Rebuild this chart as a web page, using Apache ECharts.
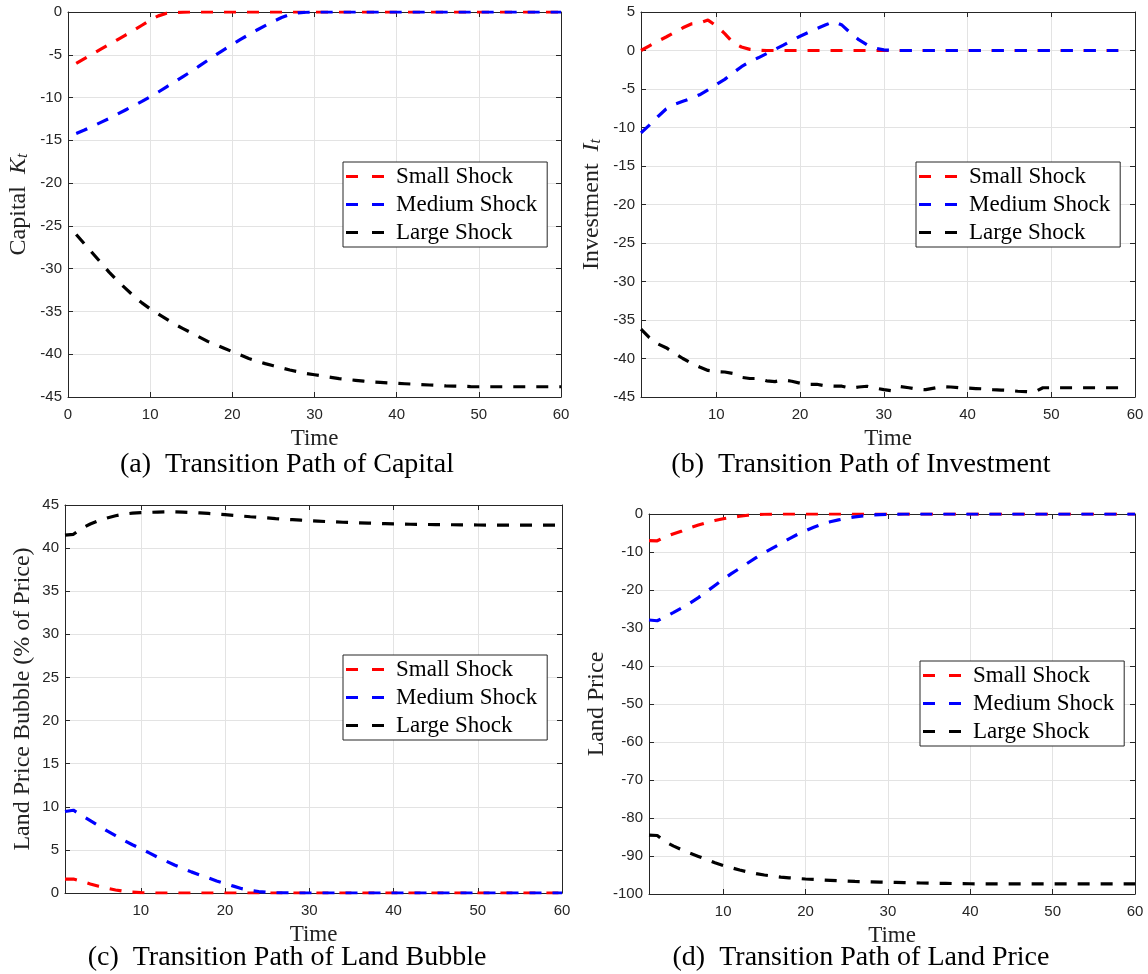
<!DOCTYPE html>
<html><head><meta charset="utf-8">
<script src="https://cdn.jsdelivr.net/npm/echarts@6/dist/echarts.min.js"></script>
<style>html,body{margin:0;padding:0;background:#fff}#c{width:1148px;height:974px}</style>
</head><body><div id="c"></div>
<script>
// ---------------- data ----------------
const time = [1,2,3,4,5,6,7,8,9,10,11,12,13,14,15,16,17,18,19,20,
  21,22,23,24,25,26,27,28,29,30,31,32,33,34,35,36,37,38,39,40,
  41,42,43,44,45,46,47,48,49,50,51,52,53,54,55,56,57,58,59,60];
const seriesNames = ['Small Shock','Medium Shock','Large Shock'];

// (a) Capital
const capSmall = [-6.0,-5.45,-4.9,-4.35,-3.8,-3.25,-2.7,-2.15,-1.55,-0.95,
  -0.45,-0.15,-0.05,-0.01,0,0,0,0,0,0,
  0,0,0,0,0,0,0,0,0,0, 0,0,0,0,0,0,0,0,0,0,
  0,0,0,0,0,0,0,0,0,0, 0,0,0,0,0,0,0,0,0,0];
const capMedium = [-14.2,-13.8,-13.35,-12.9,-12.45,-11.95,-11.45,-10.95,-10.45,-9.9,
  -9.35,-8.75,-8.15,-7.55,-6.95,-6.3,-5.65,-5.0,-4.4,-3.8,
  -3.2,-2.65,-2.1,-1.6,-1.1,-0.65,-0.3,-0.1,-0.03,0,
  0,0,0,0,0,0,0,0,0,0, 0,0,0,0,0,0,0,0,0,0, 0,0,0,0,0,0,0,0,0,0];
const capLarge = [-26.0,-27.1,-28.2,-29.3,-30.4,-31.4,-32.3,-33.2,-34.0,-34.7,
  -35.3,-35.9,-36.5,-37.0,-37.5,-38.0,-38.5,-38.9,-39.3,-39.7,
  -40.1,-40.5,-40.8,-41.1,-41.35,-41.6,-41.85,-42.05,-42.25,-42.4,
  -42.55,-42.7,-42.85,-42.95,-43.05,-43.15,-43.25,-43.3,-43.35,-43.4,
  -43.45,-43.5,-43.55,-43.6,-43.65,-43.7,-43.72,-43.75,-43.78,-43.8,
  -43.8,-43.8,-43.8,-43.8,-43.8,-43.8,-43.8,-43.8,-43.8,-43.8];

// (b) Investment (58 periods)
const invSmall = [0.0,0.6,1.2,1.75,2.35,2.95,3.45,3.55,3.95,3.2,
  2.2,1.0,0.45,0.15,0.04,0,0,0,0,0,
  0,0,0,0,0,0,0,0,0,0, 0,0,0,0,0,0,0,0,0,0,
  0,0,0,0,0,0,0,0,0,0, 0,0,0,0,0,0,0,0];
const invMedium = [-10.7,-9.7,-8.6,-7.6,-7.0,-6.6,-6.2,-5.75,-5.1,-4.4,
  -3.75,-2.9,-2.1,-1.45,-0.95,-0.4,0.15,0.7,1.3,1.85,
  2.35,2.85,3.3,3.75,3.3,2.3,1.4,0.75,0.3,0.08,
  0.02,0,0,0,0,0,0,0,0,0, 0,0,0,0,0,0,0,0,0,0, 0,0,0,0,0,0,0,0];
const invLarge = [-36.2,-37.3,-38.1,-38.6,-39.3,-40.0,-40.6,-41.1,-41.55,-41.7,
  -41.75,-41.95,-42.45,-42.6,-42.6,-42.9,-43.0,-42.8,-42.95,-43.2,
  -43.35,-43.35,-43.55,-43.6,-43.6,-43.85,-43.7,-43.6,-43.85,-44.05,
  -44.2,-43.65,-43.8,-44.0,-44.05,-43.85,-43.65,-43.7,-43.8,-43.85,
  -43.9,-43.95,-44.05,-44.1,-44.15,-44.25,-44.3,-44.35,-43.8,-43.8,
  -43.8,-43.8,-43.8,-43.8,-43.8,-43.8,-43.8,-43.8];

// (c) Land bubble
const bubSmall = [1.6,1.62,1.35,1.05,0.78,0.55,0.35,0.2,0.1,0.04,
  0.01,0,0,0,0,0,0,0,0,0,
  0,0,0,0,0,0,0,0,0,0, 0,0,0,0,0,0,0,0,0,0,
  0,0,0,0,0,0,0,0,0,0, 0,0,0,0,0,0,0,0,0,0];
const bubMedium = [9.45,9.6,9.0,8.4,7.8,7.2,6.65,6.1,5.6,5.15,
  4.65,4.15,3.7,3.25,2.85,2.45,2.1,1.75,1.4,1.1,
  0.8,0.5,0.3,0.17,0.08,0.03,0.01,0,0,0,
  0,0,0,0,0,0,0,0,0,0, 0,0,0,0,0,0,0,0,0,0, 0,0,0,0,0,0,0,0,0,0];
const bubLarge = [41.5,41.6,42.3,42.8,43.2,43.5,43.75,43.95,44.05,44.12,
  44.15,44.18,44.2,44.2,44.17,44.13,44.08,44.02,43.95,43.88,
  43.8,43.72,43.64,43.57,43.5,43.42,43.35,43.3,43.24,43.18,
  43.13,43.08,43.04,43.0,42.96,42.93,42.9,42.87,42.84,42.81,
  42.79,42.77,42.76,42.74,42.73,42.72,42.71,42.7,42.69,42.68,
  42.67,42.67,42.67,42.67,42.67,42.67,42.67,42.67,42.67,42.67];

// (d) Land price
const landSmall = [-7.0,-7.05,-6.0,-5.2,-4.45,-3.6,-2.9,-2.25,-1.7,-1.25,
  -0.9,-0.6,-0.33,-0.15,-0.06,-0.02,0,0,0,0,
  0,0,0,0,0,0,0,0,0,0, 0,0,0,0,0,0,0,0,0,0,
  0,0,0,0,0,0,0,0,0,0, 0,0,0,0,0,0,0,0,0,0];
const landMedium = [-27.9,-28.1,-27.0,-25.9,-24.7,-23.4,-22.0,-20.4,-18.8,-17.2,
  -15.7,-14.3,-12.9,-11.5,-10.2,-9.0,-7.8,-6.55,-5.4,-4.4,
  -3.5,-2.7,-2.05,-1.55,-1.1,-0.75,-0.5,-0.3,-0.17,-0.08,
  -0.03,0,0,0,0,0,0,0,0,0, 0,0,0,0,0,0,0,0,0,0, 0,0,0,0,0,0,0,0,0,0];
const landLarge = [-84.5,-84.6,-86.3,-87.4,-88.4,-89.3,-90.1,-90.9,-91.8,-92.5,
  -93.1,-93.7,-94.2,-94.65,-95.0,-95.3,-95.55,-95.75,-95.9,-96.05,
  -96.15,-96.3,-96.4,-96.5,-96.6,-96.7,-96.75,-96.8,-96.85,-96.9,
  -96.95,-97.0,-97.05,-97.1,-97.15,-97.2,-97.22,-97.25,-97.28,-97.3,
  -97.32,-97.34,-97.35,-97.36,-97.36,-97.36,-97.36,-97.36,-97.36,-97.36,
  -97.36,-97.36,-97.36,-97.36,-97.36,-97.36,-97.36,-97.36,-97.36,-97.36];

const xTicksA = [0,10,20,30,40,50,60];
const xTicksB = [10,20,30,40,50,60];
const captions = ['(a)  Transition Path of Capital','(b)  Transition Path of Investment',
  '(c)  Transition Path of Land Bubble','(d)  Transition Path of Land Price'];
const yNames = ['Capital  {m|K}{s|t}','Investment  {m|I}{s|t}','Land Price Bubble (% of Price)','Land Price'];

// ---------------- styling / layout ----------------
const colors = ['#ff0000','#0000ff','#000000'];
const AX = '#262626';
const GRIDC = '#e3e3e3';
const serif = '"Liberation Serif","Times New Roman",serif';
const sans = '"Liberation Sans",Arial,sans-serif';
const dashIcon = 'path://M0,0H12V3.2H0Z M26,0H38V3.2H26Z';

const panels = [
  {grid:{left:68,top:12,width:493,height:385}, xMin:0, xTicks:xTicksA, yMin:-45, yMax:0, yInt:5, yGap:37,
   data:[capSmall,capMedium,capLarge], legend:{left:343,top:162}, capX:287, capTop:451},
  {grid:{left:641,top:12,width:494,height:385}, xMin:1, xTicks:xTicksB, yMin:-45, yMax:5, yInt:5, yGap:37,
   data:[invSmall,invMedium,invLarge], legend:{left:916,top:162}, capX:861, capTop:451},
  {grid:{left:65,top:505,width:497,height:388}, xMin:1, xTicks:xTicksB, yMin:0, yMax:45, yInt:5, yGap:30,
   data:[bubSmall,bubMedium,bubLarge], legend:{left:343,top:655}, capX:287, capTop:944},
  {grid:{left:649,top:514,width:486,height:380}, xMin:1, xTicks:xTicksB, yMin:-100, yMax:0, yInt:10, yGap:37,
   data:[landSmall,landMedium,landLarge], legend:{left:920,top:661}, capX:861, capTop:944}
];

const option = {animation:false, backgroundColor:'#fff', grid:[], xAxis:[], yAxis:[], series:[], legend:[], title:[]};
const axLine = {show:true, onZero:false, lineStyle:{color:AX, width:1}};
const nameRich = {
  m:{fontFamily:serif, fontStyle:'italic', fontSize:24, color:'#222'},
  s:{fontFamily:serif, fontStyle:'italic', fontSize:16, lineHeight:8, verticalAlign:'bottom', color:'#222'}
};

panels.forEach((p,i)=>{
  option.grid.push(Object.assign({containLabel:false}, p.grid));
  option.xAxis.push({gridIndex:i, type:'value', min:p.xMin, max:60, position:'bottom',
    axisLine:axLine,
    axisTick:{show:true, inside:true, length:5, customValues:p.xTicks, lineStyle:{color:AX}},
    axisLabel:{show:true, customValues:p.xTicks, margin:10, color:AX, fontFamily:sans, fontSize:15},
    splitLine:{show:true, lineStyle:{color:GRIDC, width:1}},
    name:'Time', nameLocation:'middle', nameGap:30,
    nameTextStyle:{fontFamily:serif, fontSize:23, color:'#222'}});
  option.xAxis.push({gridIndex:i, type:'value', min:p.xMin, max:60, position:'top',
    axisLine:axLine,
    axisTick:{show:true, inside:true, length:5, customValues:p.xTicks, lineStyle:{color:AX}},
    axisLabel:{show:false}, splitLine:{show:false}});
  option.yAxis.push({gridIndex:i, type:'value', min:p.yMin, max:p.yMax, interval:p.yInt, position:'left',
    axisLine:axLine,
    axisTick:{show:true, inside:true, length:5, lineStyle:{color:AX}},
    axisLabel:{show:true, margin:6, color:AX, fontFamily:sans, fontSize:15},
    splitLine:{show:true, lineStyle:{color:GRIDC, width:1}},
    name:yNames[i], nameLocation:'middle', nameGap:p.yGap,
    nameTextStyle:{fontFamily:serif, fontSize:24, color:'#222', rich:nameRich}});
  option.yAxis.push({gridIndex:i, type:'value', min:p.yMin, max:p.yMax, interval:p.yInt, position:'right',
    axisLine:axLine,
    axisTick:{show:true, inside:true, length:5, lineStyle:{color:AX}},
    axisLabel:{show:false}, splitLine:{show:false}});
  seriesNames.forEach((nm,k)=>{
    option.series.push({type:'line', name:nm, xAxisIndex:2*i, yAxisIndex:2*i,
      data:p.data[k].map((v,j)=>[time[j], v]),
      symbol:'none', showSymbol:false, silent:true, z:2+k,
      lineStyle:{color:colors[k], width:3.2, type:[12,11]},
      itemStyle:{color:colors[k]}});
  });
  option.legend.push({left:p.legend.left, top:p.legend.top, orient:'vertical', data:seriesNames,
    icon:dashIcon, itemWidth:38, itemHeight:14, itemGap:5, padding:[3,10,3,3],
    backgroundColor:'#fff', borderColor:AX, borderWidth:1, borderRadius:0,
    selectedMode:false,
    textStyle:{fontFamily:serif, fontSize:23, color:'#000', padding:[0,0,0,7]}});
  option.title.push({text:captions[i], left:p.capX, top:p.capTop, textAlign:'center', padding:0,
    textStyle:{fontFamily:serif, fontSize:28, fontWeight:'normal', color:'#000'}});
});

const chart = echarts.init(document.getElementById('c'));
chart.setOption(option);
</script>
</body></html>
